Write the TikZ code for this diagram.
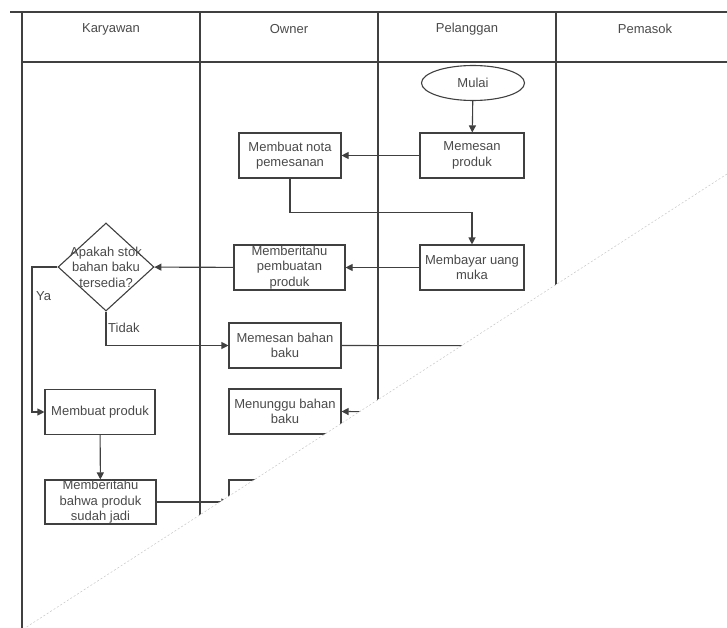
\documentclass[tikz,border=0pt]{standalone}
\usepackage{fontspec}
\setmainfont{Liberation Sans}
\usetikzlibrary{shapes.geometric,arrows.meta}
\definecolor{linec}{HTML}{404040}
\definecolor{txt}{HTML}{4A4A4A}
\newcommand\boxfont{\fontsize{13}{15.5}\selectfont}
\begin{document}
\begin{tikzpicture}[x=1pt,y=-1pt,
  lane/.style={draw=linec, line width=1.2pt},
  conn/.style={draw=linec, line width=1.1pt},
  flow/.style={conn, -{Triangle[length=7pt,width=7pt]}},
  stepbox/.style={draw=linec, line width=1.1pt, fill=white, minimum width=#1,
    minimum height=45pt, inner sep=0pt, align=center, text=txt, font=\boxfont},
  decision/.style={diamond, draw=linec, line width=1.1pt, fill=white,
    minimum width=96pt, minimum height=88pt, inner sep=0pt},
  startnode/.style={ellipse, draw=linec, line width=1.1pt, fill=white,
    minimum width=103pt, minimum height=35pt, inner sep=0pt, text=txt, font=\boxfont},
  head/.style={text=txt, font=\boxfont},
  note/.style={text=txt, font=\boxfont, inner sep=0pt}]

\useasboundingbox (0,0) rectangle (727,628);

\begin{scope}
  % visible part of the sheet, cut along the diagonal
  \clip (0,0) -- (727,0) -- (727,174) -- (25,628) -- (0,628) -- cycle;

  % swimlanes
  \draw[lane] (10,12) -- (727,12);
  \draw[lane] (22,62) -- (727,62);
  \draw[lane] (22,12) -- (22,628);
  \draw[lane] (200,12) -- (200,628);
  \draw[lane] (378,12) -- (378,628);
  \draw[lane] (556,12) -- (556,628);

  \node[head] (hk) at (111,29) {Karyawan};
  \node[head] (ho) at (289,29) {Owner};
  \node[head] (hp) at (467,29) {Pelanggan};
  \node[head] (hs) at (645,29) {Pemasok};

  % steps
  \node[startnode] (mulai) at (473,83) {Mulai};
  \node[stepbox=104pt] (pesan) at (472,155.5) {Memesan\\produk};
  \node[stepbox=102pt] (nota) at (290,155.5) {Membuat nota\\pemesanan};
  \node[stepbox=104pt] (bayar) at (472,267.5) {Membayar uang\\muka};
  \node[stepbox=111pt] (info) at (289.5,267.5) {Memberitahu\\pembuatan\\produk};
  \node[decision, label={[text=txt, font=\boxfont, align=center]center:Apakah stok\\bahan baku\\tersedia?}] (stok) at (106,267) {};
  \node[stepbox=112pt] (bahan) at (285,345.5) {Memesan bahan\\baku};
  \node[stepbox=112pt] (tunggu) at (285,411.5) {Menunggu bahan\\baku};
  \node[stepbox=110pt] (buat) at (100,412) {Membuat produk};
  \node[stepbox=111pt, minimum height=44pt] (jadi) at (100.5,502) {Memberitahu\\bahwa produk\\sudah jadi};
  \node[stepbox=112pt, minimum height=44pt] (terima) at (285,502) {};

  \coordinate (toSupplier) at (640,346);
  \coordinate (fromSupplier) at (640,413);

  % connectors
  \draw[flow] (mulai) -- (pesan);
  \draw[flow] (pesan) -- (nota);
  \draw[flow] (nota.south) -- ++(0,34) -| (bayar.north);
  \draw[flow] (bayar) -- (info);
  \draw[flow] (info) -- (stok);
  \draw[flow] (stok.west) -- (32,267) |- (buat.west);
  \draw[flow] (stok.south) |- (bahan.west);
  \draw[conn] (bahan.east) -- (toSupplier);
  \draw[flow] (fromSupplier) -- (tunggu.east);
  \draw[flow] (buat) -- (jadi);
  \draw[flow] (jadi) -- (terima);

  \node[note, anchor=west] (ya) at (36,296) {Ya};
  \node[note, anchor=west] (tidak) at (108,328) {Tidak};
\end{scope}

% edge of the cut
\draw[gray!45, line width=0.5pt, dash pattern=on 2pt off 2pt] (727,174) -- (25,628);
\end{tikzpicture}
\end{document}
